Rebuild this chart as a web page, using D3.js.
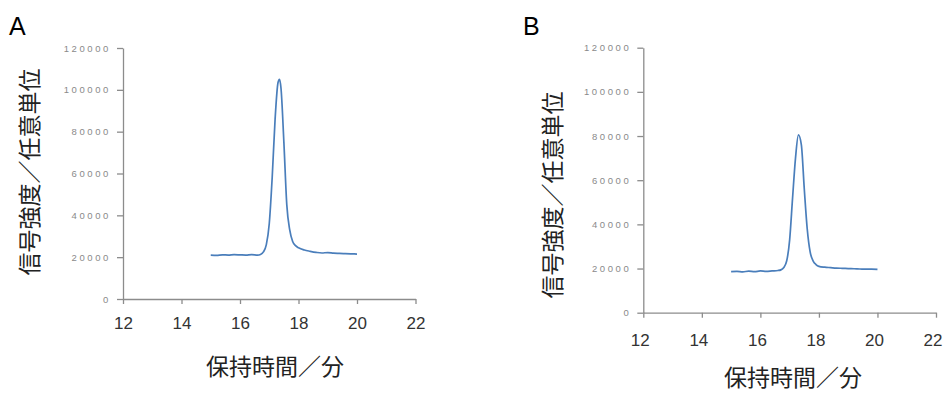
<!DOCTYPE html>
<html>
<head>
<meta charset="utf-8">
<script src="https://cdn.jsdelivr.net/npm/d3@7"></script>
<style>
	body { margin: 0; background: #fff; }
	.axis path, .axis line { stroke: #8c8c8c; stroke-width: 1.3; }
	.yaxis text { font-family: "Liberation Sans", Arial, sans-serif; font-size: 9.5px; fill: #8a8a8a; letter-spacing: 2.6px; }
	.xaxis text { font-family: "Liberation Sans", Arial, sans-serif; font-size: 17px; fill: #333; }
	.title { font-family: "Noto Sans CJK JP", sans-serif; font-size: 23px; fill: #222; }
	.panel { font-family: "Liberation Sans", Arial, sans-serif; font-size: 25px; fill: #000; }
	.trace { fill: none; stroke: #4a7ebb; stroke-width: 1.7; }
</style>
</head>
<body>
<svg width="944" height="394"></svg>
<script>

	// retention time (min) and signal
	var timesA = [15.0, 15.2, 15.4, 15.6, 15.8, 16.0, 16.2, 16.4, 16.6, 16.7, 16.8, 16.9, 17.0, 17.1, 17.2, 17.3, 17.35, 17.4, 17.5, 17.6, 17.7, 17.8, 17.9, 18.0, 18.2, 18.4, 18.6, 18.8, 19.0, 19.2, 19.4, 19.6, 19.8, 20.0];
	var signalA = [21000, 20900, 21100, 21000, 21200, 21100, 21000, 21200, 21000, 21300, 22500, 26000, 36000, 58000, 86000, 103500, 105000, 101000, 75000, 45000, 33000, 27500, 25500, 24500, 23400, 22800, 22300, 22000, 22200, 21900, 21800, 21700, 21600, 21500];

	var timesB = [15.0, 15.2, 15.4, 15.6, 15.8, 16.0, 16.2, 16.4, 16.6, 16.7, 16.8, 16.9, 17.0, 17.1, 17.2, 17.3, 17.4, 17.5, 17.6, 17.7, 17.8, 17.9, 18.0, 18.2, 18.4, 18.6, 18.8, 19.0, 19.2, 19.4, 19.6, 19.8, 20.0];
	var signalB = [18600, 18700, 18500, 18800, 18600, 18900, 18700, 18900, 19100, 19400, 20500, 23500, 33000, 52000, 70000, 80500, 76000, 56000, 38000, 27500, 23500, 21800, 21000, 20600, 20400, 20200, 20100, 20000, 19900, 19800, 19700, 19700, 19600];

	var xTicks = [12, 14, 16, 18, 20, 22];
	var yTicks = [0, 20000, 40000, 60000, 80000, 100000, 120000];

	var xTitle = "保持時間／分";
	var yTitle = "信号強度／任意単位";

	var svg = d3.select("svg");

	function drawPanel(opt, times, signal) {
		var x = d3.scaleLinear().domain([12, 22]).range([opt.left, opt.right]);
		var y = d3.scaleLinear().domain([0, 120000]).range([opt.bottom, opt.top]);

		var g = svg.append("g");

		g.append("g")
			.attr("class", "axis yaxis")
			.attr("transform", "translate(" + opt.left + ",0)")
			.call(d3.axisLeft(y).tickValues(yTicks).tickFormat(d3.format("d")).tickSize(6).tickPadding(6).tickSizeOuter(0));

		g.append("g")
			.attr("class", "axis xaxis")
			.attr("transform", "translate(0," + opt.bottom + ")")
			.call(d3.axisBottom(x).tickValues(xTicks).tickFormat(d3.format("d")).tickSize(5).tickPadding(opt.xpad).tickSizeOuter(0))
			.selectAll("text")
			.attr("dx", opt.xdx);

		var line = d3.line()
			.x(function (d, i) { return x(times[i]); })
			.y(function (d) { return y(d); })
			.curve(d3.curveMonotoneX);

		g.append("path")
			.attr("class", "trace")
			.attr("d", line(signal));

		g.append("text")
			.attr("class", "title")
			.attr("text-anchor", "middle")
			.attr("transform", "translate(" + opt.yl[0] + "," + opt.yl[1] + ") rotate(-90)")
			.attr("dy", "0.35em")
			.text(yTitle);

		g.append("text")
			.attr("class", "title")
			.attr("text-anchor", "middle")
			.attr("x", opt.xl[0])
			.attr("y", opt.xl[1])
			.attr("dy", "0.35em")
			.text(xTitle);

		g.append("text")
			.attr("class", "panel")
			.attr("x", opt.tag[0])
			.attr("y", opt.tag[1])
			.text(opt.name);
	}

	drawPanel({ name: "A", left: 123, right: 415.5, top: 48, bottom: 299, xpad: 13, xdx: 0, yl: [30, 172], xl: [275, 367], tag: [9, 35] }, timesA, signalA);
	drawPanel({ name: "B", left: 643.3, right: 936, top: 47.7, bottom: 312.7, xpad: 16, xdx: -3.5, yl: [553, 195], xl: [793, 378], tag: [523, 35] }, timesB, signalB);

</script>
</body>
</html>
